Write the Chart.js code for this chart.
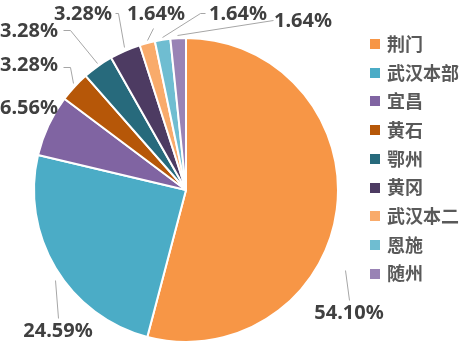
<!DOCTYPE html>
<html>
<head>
<meta charset="utf-8">
<script src="https://cdn.jsdelivr.net/npm/chart.js@4/dist/chart.umd.min.js"></script>
<style>
  html, body { margin: 0; padding: 0; background: #fff; }
  #wrap { width: 467px; height: 355px; position: relative; }
</style>
</head>
<body>
<div id="wrap"><canvas id="c"></canvas></div>
<script>
// ── Data ──────────────────────────────────────────────────────────────────────
const categories = ['荆门', '武汉本部', '宜昌', '黄石', '鄂州', '黄冈', '武汉本二', '恩施', '随州'];
const counts     = [33, 15, 4, 2, 2, 2, 1, 1, 1];
const pctLabels  = ['54.10%', '24.59%', '6.56%', '3.28%', '3.28%', '3.28%', '1.64%', '1.64%', '1.64%'];
const colors     = ['#F79646', '#4BACC6', '#8064A2', '#B65708', '#276A7C', '#4D3B62', '#F9AB6B', '#6FBDD1', '#9983B5'];

// label placement (text centre) and leader line points, same order as categories
const labelPos = [
  { x: 349, y: 313, line: [[345, 270], [349, 300]] },
  { x: 58,  y: 331, line: [[55, 280], [58, 318]] },
  { x: 29,  y: 108, line: null },
  { x: 29,  y: 65,  line: [[63, 67], [70, 67], [73, 83]] },
  { x: 29,  y: 31,  line: [[63, 30], [70, 30], [97, 63]] },
  { x: 83,  y: 14,  line: [[115, 13], [118, 13], [124, 47]] },
  { x: 156, y: 14,  line: [[153, 28], [147, 40]] },
  { x: 238, y: 14,  line: [[205, 13], [200, 13], [162, 37]] },
  { x: 303, y: 21,  line: [[273, 20], [177, 35]] },
];

const labelPlugin = {
  id: 'pctLabels',
  afterDatasetsDraw(chart) {
    const ctx = chart.ctx;
    ctx.save();
    ctx.strokeStyle = '#A6A6A6';
    ctx.lineWidth = 1;
    labelPos.forEach((p) => {
      if (!p.line) return;
      ctx.beginPath();
      p.line.forEach(([x, y], i) => (i ? ctx.lineTo(x + 0.5, y + 0.5) : ctx.moveTo(x + 0.5, y + 0.5)));
      ctx.stroke();
    });
    ctx.fillStyle = '#404040';
    ctx.font = 'bold 20px "Noto Sans", "Noto Sans CJK SC", sans-serif';
    ctx.textAlign = 'center';
    ctx.textBaseline = 'middle';
    pctLabels.forEach((t, i) => ctx.fillText(t, labelPos[i].x, labelPos[i].y));
    ctx.restore();
  },
};

const legendPlugin = {
  id: 'sideLegend',
  afterDraw(chart) {
    const ctx = chart.ctx;
    ctx.save();
    ctx.font = 'bold 18px "Noto Sans CJK SC", sans-serif';
    ctx.textBaseline = 'middle';
    categories.forEach((name, i) => {
      const y = 44 + i * 28.7;
      ctx.fillStyle = colors[i];
      ctx.fillRect(370, Math.round(y - 5), 10, 10);
      ctx.fillStyle = '#595959';
      ctx.fillText(name, 387, y);
    });
    ctx.restore();
  },
};

new Chart(document.getElementById('c'), {
  type: 'pie',
  data: {
    labels: categories,
    datasets: [{
      data: counts,
      backgroundColor: colors,
      borderColor: '#FFFFFF',
      borderWidth: 2,
    }],
  },
  options: {
    responsive: true,
    maintainAspectRatio: false,
    animation: false,
    layout: { padding: { left: 33, right: 128, top: 37, bottom: 12 } },
    plugins: {
      legend: { display: false },
      tooltip: { enabled: false },
    },
  },
  plugins: [labelPlugin, legendPlugin],
});
</script>
</body>
</html>
